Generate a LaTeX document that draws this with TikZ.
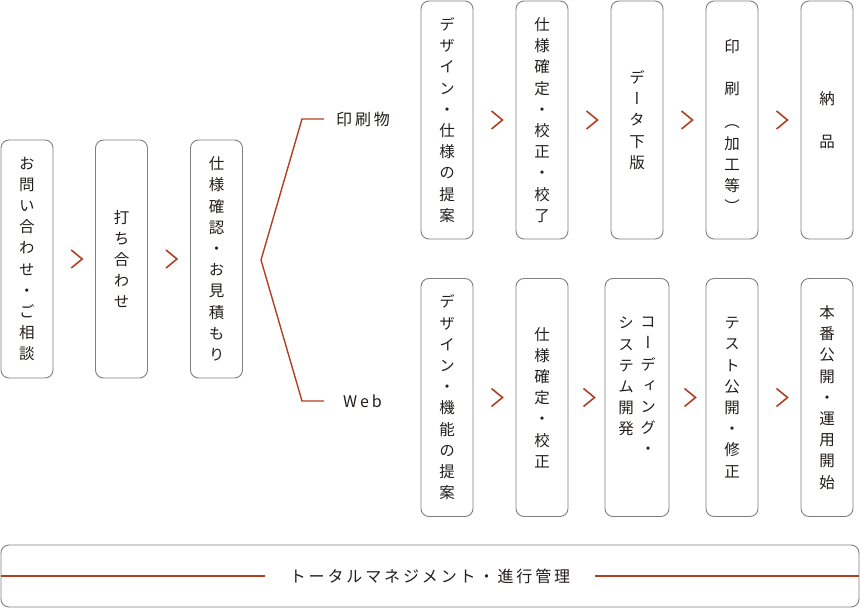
\documentclass[tikz,border=0pt]{standalone}
\usepackage{fontspec}
\setmainfont{Noto Sans CJK JP}
\newfontfamily\tatefont[RawFeature=+vert]{Noto Sans CJK JP}
\newfontfamily\yokofont[LetterSpace=18]{Noto Sans CJK JP}
\usetikzlibrary{calc,positioning}
\definecolor{flowred}{RGB}{176,64,36}
\definecolor{boxgray}{RGB}{128,128,128}
\definecolor{inkgray}{RGB}{35,30,28}
% one character per line (vertical text)
\def\tate#1{\tatego#1\relax}
\def\tatego#1#2{#1\ifx\relax#2\else\\\expandafter\tatego\expandafter#2\fi}

\begin{document}
\begin{tikzpicture}[x=1pt, y=-1pt,
  tatetext/.style={text=inkgray, font=\tatefont\fontsize{15.5}{21.2}\selectfont, align=center, inner sep=0pt},
  stepbox/.style={tatetext, draw=boxgray, line width=0.9pt, rounded corners=8pt, minimum width=52pt, minimum height=238pt},
  yoko/.style={text=inkgray, font=\yokofont\fontsize{16}{18}\selectfont, inner sep=0pt},
  chev/.style={draw=flowred, line width=1.6pt},
  redline/.style={draw=flowred, line width=1.4pt}
]
  \useasboundingbox (0,0) rectangle (860,609);
  %% common steps
  \node[stepbox] (ask)   at (27,259)    {\tate{お問い合わせ・ご相談}};
  \node[stepbox] (meet)  at (121.5,259) {\tate{打ち合わせ}};
  \node[stepbox] (quote) at (216.5,259) {\tate{仕様確認・お見積もり}};
  %% branch
  \node[yoko, anchor=west] (print) at (336,119) {印刷物};
  \node[yoko, anchor=west] (web)   at (343,401) {Web};
  \coordinate (fork) at (261,260);
  \draw[redline] ([xshift=-12pt]print.west) -- ++(-22,0) -- (fork)
    -- ($([xshift=-19pt]web.west)+(-22,0)$) -- ([xshift=-19pt]web.west);
  %% printed matter
  \node[stepbox] (p1) at (447,120) {\tate{デザイン・仕様の提案}};
  \node[stepbox] (p2) at (542,120) {\tate{仕様確定・校正・校了}};
  \node[stepbox] (p3) at (637,120) {\tate{データ下版}};
  \node[stepbox] (p4) at (732,120) {};
  \node[tatetext] (p4t) at ($(p4)+(0,6)$) {印\\　\\刷\\[12pt]（\\加\\工\\等\\）};
  \node[stepbox] (p5) at (827,120) {\tate{納　品}};
  %% web
  \node[stepbox] (w1) at (447,397.5) {\tate{デザイン・機能の提案}};
  \node[stepbox] (w2) at (542,397.5) {\tate{仕様確定・校正}};
  \node[stepbox, minimum width=64pt] (w3) at (637,397.5) {};
  \node[tatetext, anchor=north] (w3r) at (648,317) {\tate{コーディング・}};
  \node[tatetext, anchor=north] (w3l) at (626,317) {\tate{システム開発}};
  \node[stepbox] (w4) at (732,397.5) {\tate{テスト公開・修正}};
  \node[stepbox] (w5) at (827,397.5) {\tate{本番公開・運用開始}};
  %% chevrons
  \foreach \a/\b in {ask/meet, meet/quote, p1/p2, p2/p3, p3/p4, p4/p5, w1/w2, w2/w3, w3/w4, w4/w5}
    \draw[chev] ($(\a.east)!0.5!(\b.west)$) ++(-3,-9) -- ++(11,9) -- ++(-11,9);
  %% management bar
  \node[draw=boxgray, line width=0.9pt, rounded corners=8pt, minimum width=858pt, minimum height=62pt, inner sep=0pt] (mgmt) at (430,576) {};
  \node[yoko, inner xsep=25pt] (mgmttxt) at (430,576) {トータルマネジメント・進行管理};
  \draw[redline] (mgmt.west) -- (mgmttxt.west);
  \draw[redline] (mgmttxt.east) -- (mgmt.east);
\end{tikzpicture}
\end{document}
